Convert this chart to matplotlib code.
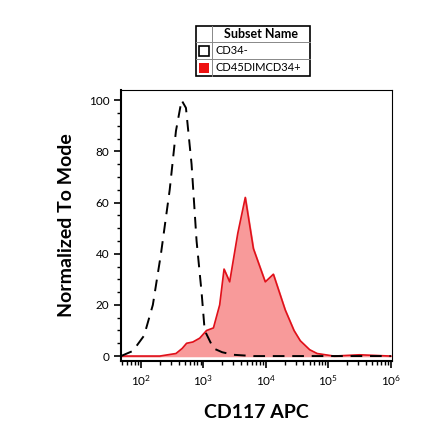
import numpy as np
import matplotlib.pyplot as plt
from matplotlib.patches import Rectangle
from matplotlib.ticker import MultipleLocator, LogLocator, NullFormatter

# log10(CD117 APC) positions and normalized counts
neg_x = [1.68, 1.87, 2.05, 2.19, 2.32, 2.46, 2.56, 2.65, 2.72, 2.81, 2.89, 2.97, 3.02, 3.16, 3.3, 3.48, 3.8, 4.2, 5.0, 6.0]
neg_y = [0, 2, 8, 20, 40, 65, 88, 100, 97, 75, 45, 25, 10, 3, 1.5, 0.5, 0, 0, 0, 0]
pos_x = [1.68, 2.3, 2.56, 2.66, 2.73, 2.83, 2.94, 3.05, 3.16, 3.26, 3.33, 3.42, 3.55, 3.67, 3.8,
         3.99, 4.12, 4.31, 4.45, 4.55, 4.7, 4.82, 5.09, 5.5, 6.0]
pos_y = [0, 0, 1, 3, 5, 5.5, 7, 10, 11, 20, 34, 29, 48, 62, 42, 29, 32, 18, 10, 6, 2.5, 1, 0, 0.5, 0]

plt.rcParams['font.family'] = ['Lato', 'DejaVu Sans']
fig = plt.figure(figsize=(4.4, 4.41), dpi=100)
ax = fig.add_axes([0.275, 0.181, 0.616, 0.615])

px = 10 ** np.array(pos_x)
ax.fill_between(px, pos_y, color='#f89a9a')
ax.plot(px, pos_y, color='#e0101a', lw=1.2)
ax.plot(10 ** np.array(neg_x), neg_y, color='black', lw=1.4, ls=(0, (6, 4)))

ax.set_xscale('log')
ax.set_xlim(10 ** 1.68, 10 ** 6.02)
ax.set_ylim(-2, 104)
ax.xaxis.set_major_locator(LogLocator(base=10, numticks=10))
ax.xaxis.set_minor_locator(LogLocator(base=10, subs=np.arange(2, 10), numticks=20))
ax.xaxis.set_minor_formatter(NullFormatter())
ax.set_yticks([0, 20, 40, 60, 80, 100])
ax.yaxis.set_minor_locator(MultipleLocator(5))
ax.tick_params(axis='both', which='major', length=5, width=1.2, labelsize=8.5)
ax.tick_params(axis='both', which='minor', length=3, width=1)
for s in ['left', 'bottom']:
    ax.spines[s].set_linewidth(1.5)
for s in ['top', 'right']:
    ax.spines[s].set_linewidth(0.8)
ax.set_xlabel('CD117 APC', fontsize=14, fontweight='bold', labelpad=12)
ax.set_ylabel('Normalized To Mode', fontsize=14, fontweight='bold', labelpad=10)

# legend table
W, H = 440, 441
def fx(p): return p / W
def fy(p): return 1 - p / H
x0, x1, xs = 196, 310, 212
rows = [26, 42, 59, 76]
fig.add_artist(Rectangle((fx(x0), fy(rows[-1])), fx(x1 - x0), (rows[-1] - rows[0]) / H,
                         transform=fig.transFigure, fill=False, lw=1.2, ec='black'))
for r in rows[1:-1]:
    fig.add_artist(plt.Line2D([fx(x0), fx(x1)], [fy(r), fy(r)], transform=fig.transFigure, color='#888', lw=0.7))
fig.add_artist(plt.Line2D([fx(xs), fx(xs)], [fy(rows[0]), fy(rows[-1])], transform=fig.transFigure, color='#888', lw=0.7))
fig.text(fx((xs + x1) / 2), fy(34), 'Subset Name', ha='center', va='center', fontsize=9, fontweight='bold')
fig.add_artist(Rectangle((fx(199), fy(56)), fx(10), 10 / H, transform=fig.transFigure, fill=False, ec='black', lw=1.2))
fig.add_artist(Rectangle((fx(199), fy(73)), fx(10), 10 / H, transform=fig.transFigure, fc='#ee1111', ec='none'))
fig.text(fx(215), fy(50.5), 'CD34-', va='center', fontsize=8)
fig.text(fx(215), fy(67.5), 'CD45DIMCD34+', va='center', fontsize=8)

fig.savefig('out.png', dpi=100)
